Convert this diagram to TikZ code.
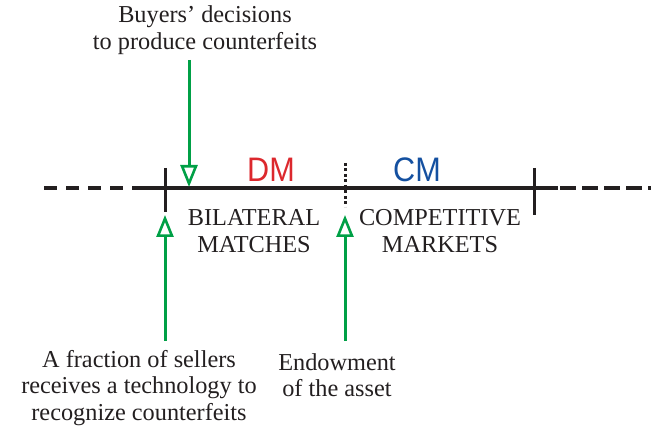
\documentclass[tikz,border=0pt]{standalone}
\usepackage{fontspec}
\setmainfont{Liberation Serif}
\newfontfamily\labelfont{Liberation Sans}
\usepackage{tikz}
\usetikzlibrary{arrows.meta,calc}
\definecolor{arrowgreen}{RGB}{0,160,70}
\definecolor{dmred}{RGB}{220,40,45}
\definecolor{cmblue}{RGB}{20,80,160}
\definecolor{inkgray}{RGB}{35,31,32}
\tikzset{
  timeline/.style={line width=3.2pt, color=inkgray},
  tickmark/.style={line width=3pt, color=inkgray},
  event/.style={line width=3pt, color=arrowgreen,
    -{Triangle[open, length=22pt, width=17pt, line width=2.6pt]}},
  caption/.style={align=center, text=inkgray,
    font=\fontsize{24.3}{26.5}\selectfont},
  period/.style={font=\labelfont\fontsize{34}{34}\selectfont,
    xscale=0.9, transform shape}
}

\begin{document}
\begin{tikzpicture}[x=1pt, y=-1pt]
    \useasboundingbox (0,0) rectangle (651,427);
    % the time line
    \coordinate (start) at (44,188);
    \coordinate (left) at (145,188);
    \coordinate (right) at (558,188);
    \coordinate (end) at (651,188);
    \draw[timeline, dash pattern=on 13pt off 9pt] (start) -- (left);
    \draw[timeline] (left) -- (right);
    \draw[timeline, dash pattern=on 16pt off 6pt] ($(right)+(2,0)$) -- (end);
    \draw[tickmark] (165,168) coordinate (t1) -- (165,212);
    \draw[tickmark] (534,168) coordinate (t3) -- (534,215);
    \draw[tickmark, dash pattern=on 3pt off 2.5pt] (345,163) coordinate (t2) -- (345,207);
    % periods
    \node[period, text=dmred] (dm) at (271,170) {DM};
    \node[period, text=cmblue] (cm) at (417,170) {CM};
    \node[caption] (bilateral) at (254,231) {BILATERAL\\MATCHES};
    \node[caption] (competitive) at (440,231) {COMPETITIVE\\MARKETS};
    % events
    \node[caption] (buyers) at (205,30) {Buyers’ decisions\\to produce counterfeits};
    \node[caption] (sellers) at (139,388) {A fraction of sellers\\receives a technology to\\recognize counterfeits};
    \node[caption] (endow) at (337,375) {Endowment\\of the asset};
    \coordinate (buyersfrom) at (189,60);
    \coordinate (buyersto) at (189,187);
    \coordinate (sellersfrom) at (165,341);
    \coordinate (sellersto) at (165,215);
    \coordinate (endowfrom) at (345,341);
    \coordinate (endowto) at (345,215);
    \draw[event] (buyersfrom) -- (buyersto);
    \draw[event] (sellersfrom) -- (sellersto);
    \draw[event] (endowfrom) -- (endowto);
\end{tikzpicture}
\end{document}
